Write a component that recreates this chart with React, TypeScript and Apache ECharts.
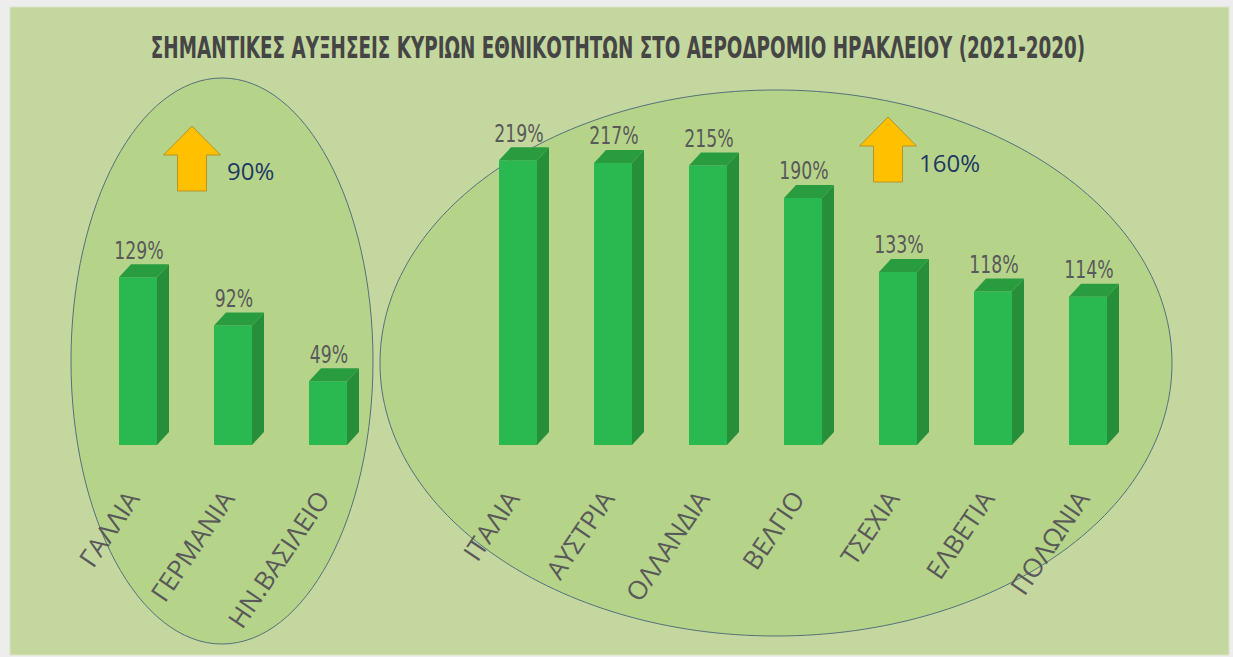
import React, { useEffect, useRef } from "react";
import * as echarts from "echarts";

const categories = [
  "ΓΑΛΛΙΑ",
  "ΓΕΡΜΑΝΙΑ",
  "ΗΝ.ΒΑΣΙΛΕΙΟ",
  "",
  "ΙΤΑΛΙΑ",
  "ΑΥΣΤΡΙΑ",
  "ΟΛΛΑΝΔΙΑ",
  "ΒΕΛΓΙΟ",
  "ΤΣΕΧΙΑ",
  "ΕΛΒΕΤΙΑ",
  "ΠΟΛΩΝΙΑ",
];
const values: (number | null)[] = [129, 92, 49, null, 219, 217, 215, 190, 133, 118, 114];
const titleText =
  "ΣΗΜΑΝΤΙΚΕΣ ΑΥΞΗΣΕΙΣ ΚΥΡΙΩΝ ΕΘΝΙΚΟΤΗΤΩΝ ΣΤΟ ΑΕΡΟΔΡΟΜΙΟ ΗΡΑΚΛΕΙΟΥ (2021-2020)";
const groupIncreaseLeft = "90%";
const groupIncreaseRight = "160%";

const NARROW = "'DejaVu Sans Condensed', 'Liberation Sans', sans-serif";

export default function App() {
  const ref = useRef<HTMLDivElement>(null);
  useEffect(() => {
    document.body.style.margin = "0";
    const chart = echarts.init(ref.current!, undefined, { renderer: "svg" });
    const data = values
      .map((v, i) => [i, v])
      .filter((d) => d[1] !== null) as number[][];

    const W = 38;
    const DX = 12;
    const DY = 13;

    const arrow = (tipX: number, tipY: number, z: number) => {
      const hw = 28.5;
      const sw = 14.5;
      const headH = 29;
      const total = 65;
      return {
        type: "polygon",
        z,
        shape: {
          points: [
            [tipX, tipY],
            [tipX + hw, tipY + headH],
            [tipX + sw, tipY + headH],
            [tipX + sw, tipY + total],
            [tipX - sw, tipY + total],
            [tipX - sw, tipY + headH],
            [tipX - hw, tipY + headH],
          ],
        },
        style: { fill: "#ffc000", stroke: "#b8922a", lineWidth: 1 },
      };
    };

    chart.setOption({
      animation: false,
      backgroundColor: "#eeeded",
      grid: { left: 90.5, right: 97.5, top: 120, bottom: 212 },
      xAxis: {
        type: "category",
        data: categories,
        axisLine: { show: false },
        axisTick: { show: false },
        axisLabel: {
          interval: 0,
          rotate: 56,
          margin: 40,
          padding: [0, 10, 0, 0],
          color: "#595959",
          fontFamily: "'Open Sans', sans-serif",
          fontSize: 26,
        },
      },
      yAxis: {
        type: "value",
        min: 0,
        max: 250,
        show: false,
        splitLine: { show: false },
      },
      graphic: [
        {
          type: "rect",
          z: -10,
          silent: true,
          shape: { x: 10, y: 7, width: 1219, height: 648 },
          style: { fill: "#c4d79e", stroke: "#d9e4c4", lineWidth: 1 },
        },
        {
          type: "ellipse",
          z: -5,
          shape: { cx: 222, cy: 361, rx: 151, ry: 283 },
          style: { fill: "#b5d48a", stroke: "#56707c", lineWidth: 1 },
        },
        {
          type: "ellipse",
          z: -5,
          shape: { cx: 776, cy: 363, rx: 396, ry: 273 },
          style: { fill: "#b5d48a", stroke: "#56707c", lineWidth: 1 },
        },
        {
          type: "text",
          z: 10,
          x: 618,
          y: 47,
          scaleX: 0.68,
          style: {
            text: titleText,
            fill: "#454545",
            font: `bold 30px ${NARROW}`,
            textAlign: "center",
            textVerticalAlign: "middle",
          },
        },
        arrow(192, 126, 10),
        arrow(888, 117, 10),
        {
          type: "text",
          z: 10,
          x: 227,
          y: 170,
          style: {
            text: groupIncreaseLeft,
            fill: "#1f3864",
            font: "24px 'Open Sans', sans-serif",
            textAlign: "left",
            textVerticalAlign: "middle",
          },
        },
        {
          type: "text",
          z: 10,
          x: 919,
          y: 162,
          style: {
            text: groupIncreaseRight,
            fill: "#1f3864",
            font: "24px 'Open Sans', sans-serif",
            textAlign: "left",
            textVerticalAlign: "middle",
          },
        },
      ],
      series: [
        {
          type: "custom",
          data,
          renderItem: (params: any, api: any) => {
            const idx = api.value(0);
            const val = api.value(1);
            const top = api.coord([idx, val]);
            const base = api.coord([idx, 0]);
            const cx = top[0];
            const ty = top[1];
            const by = base[1];
            const l = cx - W / 2;
            const r = cx + W / 2;
            return {
              type: "group",
              children: [
                {
                  type: "rect",
                  shape: { x: l, y: ty, width: W, height: by - ty },
                  style: { fill: "#29b950" },
                },
                {
                  type: "polygon",
                  shape: {
                    points: [
                      [r, ty],
                      [r + DX, ty - DY],
                      [r + DX, by - DY],
                      [r, by],
                    ],
                  },
                  style: { fill: "#278f3a" },
                },
                {
                  type: "polygon",
                  shape: {
                    points: [
                      [l, ty],
                      [l + DX, ty - DY],
                      [r + DX, ty - DY],
                      [r, ty],
                    ],
                  },
                  style: { fill: "#2a9c40" },
                },
                {
                  type: "text",
                  x: cx + 1,
                  y: ty - DY - 2,
                  scaleX: 0.8,
                  style: {
                    text: val + "%",
                    fill: "#595959",
                    font: `24px ${NARROW}`,
                    textAlign: "center",
                    textVerticalAlign: "bottom",
                  },
                },
              ],
            };
          },
        },
      ],
    });
    return () => chart.dispose();
  }, []);
  return (
    <div
      ref={ref}
      style={{ position: "absolute", left: 0, top: 0, width: 1233, height: 657 }}
    />
  );
}
